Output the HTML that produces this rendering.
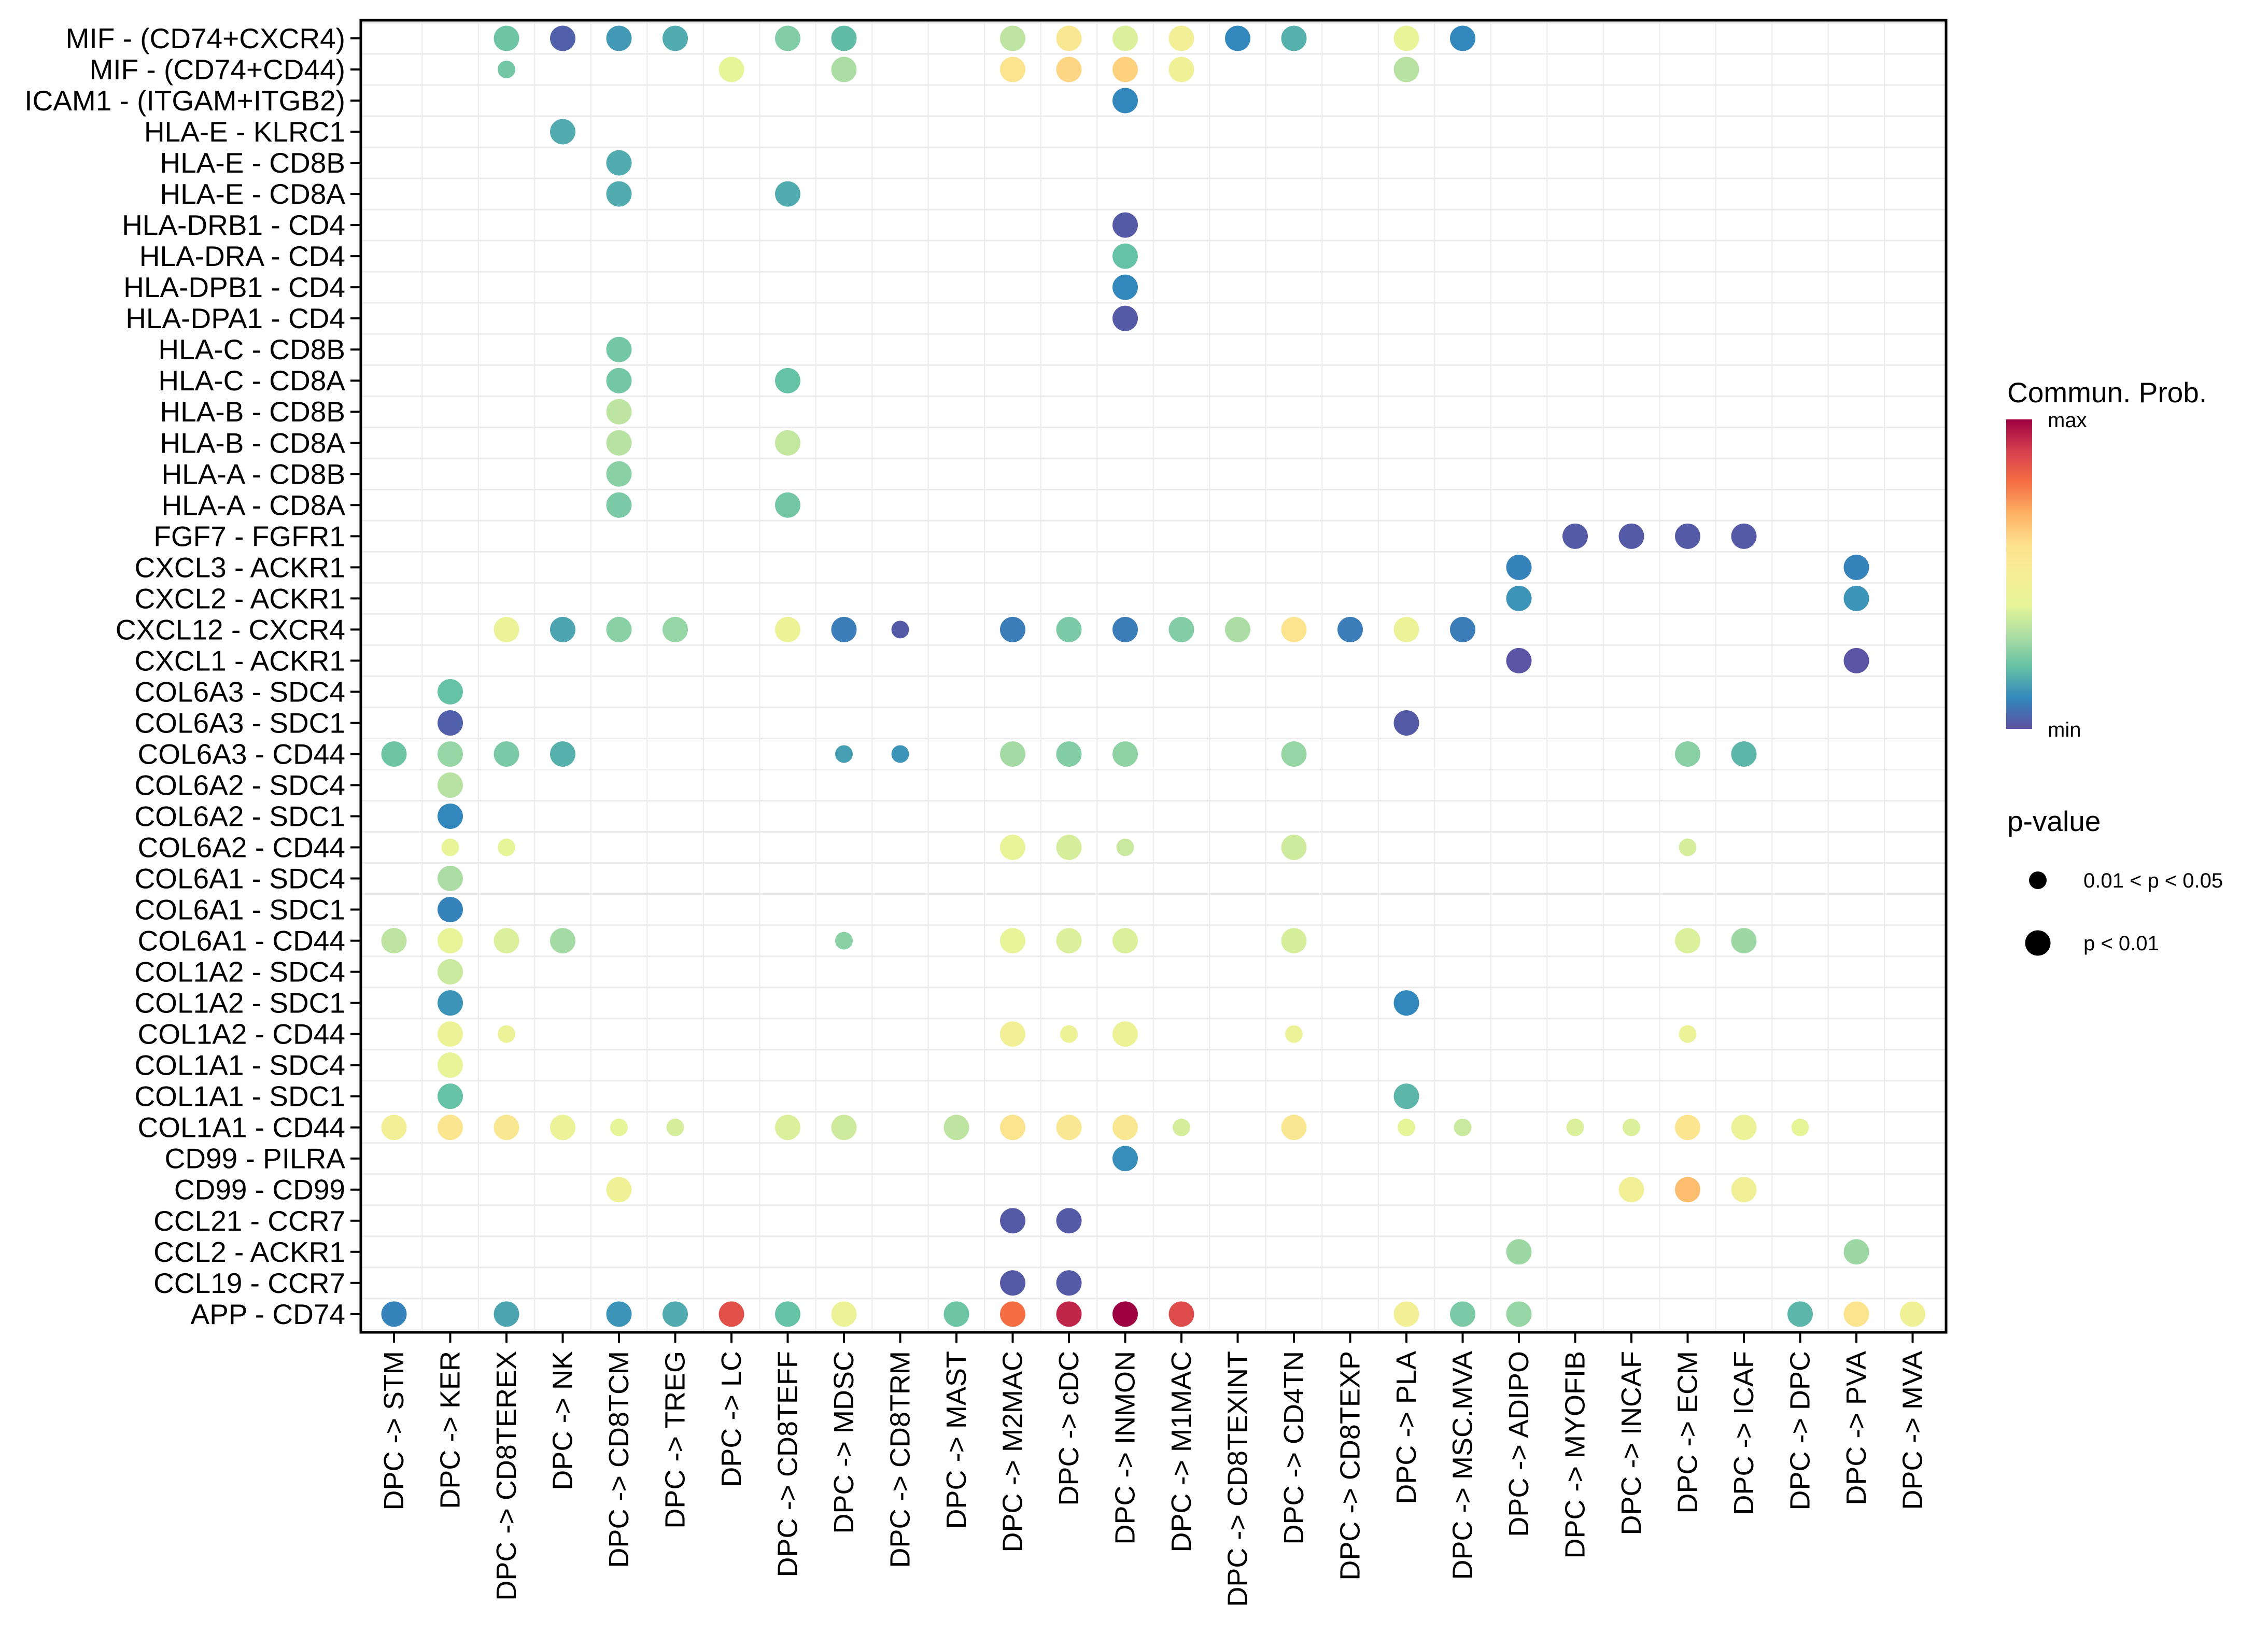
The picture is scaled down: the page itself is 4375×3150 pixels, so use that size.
<!DOCTYPE html>
<html><head><meta charset="utf-8"><style>
html,body{margin:0;padding:0;background:#fff;}
svg{display:block;font-family:"Liberation Sans",sans-serif;}
</style></head><body>
<svg id="chart" xmlns="http://www.w3.org/2000/svg" width="4375" height="3150" viewBox="0 0 4375 3150">
<rect x="0" y="0" width="4375" height="3150" fill="#fff"/>
<g id="grid"></g>
<g id="dots"></g>
<g id="yaxis"></g>
<g id="xaxis"></g>
<rect x="696" y="39" width="3058" height="2531" fill="none" stroke="#000" stroke-width="5"/>
<g>
<defs><linearGradient id="spec" x1="0" y1="1" x2="0" y2="0">
<stop offset="0" stop-color="#5E4FA2"/><stop offset="0.1" stop-color="#3288BD"/><stop offset="0.2" stop-color="#66C2A5"/><stop offset="0.3" stop-color="#ABDDA4"/><stop offset="0.4" stop-color="#E6F598"/><stop offset="0.5" stop-color="#F6EE96"/><stop offset="0.6" stop-color="#FEE08B"/><stop offset="0.7" stop-color="#FDAE61"/><stop offset="0.8" stop-color="#F46D43"/><stop offset="0.9" stop-color="#D53E4F"/><stop offset="1" stop-color="#9E0142"/>
</linearGradient></defs>
<text x="3872" y="776" font-size="55">Commun. Prob.</text>
<rect x="3870" y="809" width="50" height="597" fill="url(#spec)"/>
<text x="3950" y="824" font-size="40">max</text>
<text x="3950" y="1421" font-size="40">min</text>
</g>
<g>
<text x="3872" y="1603" font-size="55">p-value</text>
<circle cx="3931" cy="1698" r="17" fill="#000"/>
<text x="4019" y="1712" font-size="40">0.01 &lt; p &lt; 0.05</text>
<circle cx="3931" cy="1819" r="24.5" fill="#000"/>
<text x="4019" y="1833" font-size="40">p &lt; 0.01</text>
</g>
</svg>
<script>
const pairs = ["MIF - (CD74+CXCR4)","MIF - (CD74+CD44)","ICAM1 - (ITGAM+ITGB2)","HLA-E - KLRC1","HLA-E - CD8B","HLA-E - CD8A","HLA-DRB1 - CD4","HLA-DRA - CD4","HLA-DPB1 - CD4","HLA-DPA1 - CD4","HLA-C - CD8B","HLA-C - CD8A","HLA-B - CD8B","HLA-B - CD8A","HLA-A - CD8B","HLA-A - CD8A","FGF7 - FGFR1","CXCL3 - ACKR1","CXCL2 - ACKR1","CXCL12 - CXCR4","CXCL1 - ACKR1","COL6A3 - SDC4","COL6A3 - SDC1","COL6A3 - CD44","COL6A2 - SDC4","COL6A2 - SDC1","COL6A2 - CD44","COL6A1 - SDC4","COL6A1 - SDC1","COL6A1 - CD44","COL1A2 - SDC4","COL1A2 - SDC1","COL1A2 - CD44","COL1A1 - SDC4","COL1A1 - SDC1","COL1A1 - CD44","CD99 - PILRA","CD99 - CD99","CCL21 - CCR7","CCL2 - ACKR1","CCL19 - CCR7","APP - CD74"];
const targets = ["STM","KER","CD8TEREX","NK","CD8TCM","TREG","LC","CD8TEFF","MDSC","CD8TRM","MAST","M2MAC","cDC","INMON","M1MAC","CD8TEXINT","CD4TN","CD8TEXP","PLA","MSC.MVA","ADIPO","MYOFIB","INCAF","ECM","ICAF","DPC","PVA","MVA"];
// [pairIndex, targetIndex, prob(0..1), significant p<0.01 ? 1 : 0]
const cells = [
[0,2,.21,1],[0,3,.03,1],[0,4,.13,1],[0,5,.16,1],[0,7,.24,1],[0,8,.19,1],[0,11,.33,1],[0,12,.55,1],[0,13,.38,1],[0,14,.48,1],[0,15,.1,1],[0,16,.17,1],[0,18,.42,1],[0,19,.1,1],
[1,2,.22,0],[1,6,.4,1],[1,8,.3,1],[1,11,.57,1],[1,12,.62,1],[1,13,.63,1],[1,14,.46,1],[1,18,.32,1],
[2,13,.1,1],[3,3,.16,1],[4,4,.16,1],[5,4,.16,1],[5,7,.16,1],
[6,13,.02,1],[7,13,.2,1],[8,13,.1,1],[9,13,.02,1],
[10,4,.22,1],[11,4,.22,1],[11,7,.2,1],[12,4,.33,1],[13,4,.32,1],[13,7,.34,1],[14,4,.25,1],[15,4,.23,1],[15,7,.22,1],
[16,21,.02,1],[16,22,.02,1],[16,23,.02,1],[16,24,.02,1],
[17,20,.09,1],[17,26,.09,1],[18,20,.12,1],[18,26,.12,1],
[19,2,.44,1],[19,3,.15,1],[19,4,.25,1],[19,5,.27,1],[19,7,.45,1],[19,8,.08,1],[19,9,.02,0],[19,11,.08,1],[19,12,.23,1],[19,13,.08,1],[19,14,.24,1],[19,15,.3,1],[19,16,.57,1],[19,17,.08,1],[19,18,.44,1],[19,19,.08,1],
[20,20,.01,1],[20,26,.01,1],
[21,1,.2,1],[22,1,.03,1],[22,18,.02,1],
[23,0,.21,1],[23,1,.27,1],[23,2,.23,1],[23,3,.17,1],[23,8,.14,0],[23,9,.12,0],[23,11,.29,1],[23,12,.24,1],[23,13,.26,1],[23,16,.27,1],[23,23,.25,1],[23,24,.18,1],
[24,1,.32,1],[25,1,.1,1],
[26,1,.41,0],[26,2,.4,0],[26,11,.42,1],[26,12,.37,1],[26,13,.35,0],[26,16,.36,1],[26,23,.37,0],
[27,1,.3,1],[28,1,.09,1],
[29,0,.33,1],[29,1,.41,1],[29,2,.38,1],[29,3,.29,1],[29,8,.25,0],[29,11,.41,1],[29,12,.38,1],[29,13,.38,1],[29,16,.37,1],[29,23,.38,1],[29,24,.28,1],
[30,1,.35,1],[31,1,.12,1],[31,18,.1,1],
[32,1,.45,1],[32,2,.44,0],[32,11,.47,1],[32,12,.45,0],[32,13,.45,1],[32,16,.44,0],[32,23,.44,0],
[33,1,.41,1],[34,1,.2,1],[34,18,.18,1],
[35,0,.48,1],[35,1,.56,1],[35,2,.55,1],[35,3,.44,1],[35,4,.4,0],[35,5,.37,0],[35,7,.38,1],[35,8,.36,1],[35,10,.33,1],[35,11,.58,1],[35,12,.55,1],[35,13,.55,1],[35,14,.37,0],[35,16,.55,1],[35,18,.4,0],[35,19,.35,0],[35,21,.38,0],[35,22,.38,0],[35,23,.56,1],[35,24,.44,1],[35,25,.4,0],
[36,13,.11,1],
[37,4,.46,1],[37,22,.47,1],[37,23,.67,1],[37,24,.47,1],
[38,11,.02,1],[38,12,.02,1],
[39,20,.28,1],[39,26,.28,1],
[40,11,.02,1],[40,12,.02,1],
[41,0,.09,1],[41,2,.15,1],[41,4,.12,1],[41,5,.16,1],[41,6,.86,1],[41,7,.2,1],[41,8,.44,1],[41,10,.21,1],[41,11,.8,1],[41,12,.94,1],[41,13,1.0,1],[41,14,.87,1],[41,18,.48,1],[41,19,.23,1],[41,20,.27,1],[41,25,.18,1],[41,26,.58,1],[41,27,.46,1]
];
const stops = ["#5E4FA2","#3288BD","#66C2A5","#ABDDA4","#E6F598","#F6EE96","#FEE08B","#FDAE61","#F46D43","#D53E4F","#9E0142"];
const NS="http://www.w3.org/2000/svg";
const X0=760, DX=108.5, Y0=74, DY=60.02, L=696, R=3754, T=39, B=2570;
function xs(i){return X0+i*DX;}
function ys(i){return Y0+i*DY;}
function hex(c){return [1,3,5].map(k=>parseInt(c.substr(k,2),16));}
function col(v){v=Math.max(0,Math.min(1,v));const p=v*10,i=Math.min(9,Math.floor(p)),f=p-i;const a=hex(stops[i]),b=hex(stops[i+1]);return "rgb("+a.map((x,k)=>Math.round(x+(b[k]-x)*f)).join(",")+")";}
function mk(tag,attrs,parent){const e=document.createElementNS(NS,tag);for(const k in attrs)e.setAttribute(k,attrs[k]);parent.appendChild(e);return e;}
const grid=document.getElementById('grid'),dots=document.getElementById('dots'),ya=document.getElementById('yaxis'),xa=document.getElementById('xaxis');
for(let i=0;i<=pairs.length;i++){const y=ys(i)-DY/2;if(y<T||y>B)continue;const l=mk('line',{x1:L,x2:R,y1:y,y2:y,stroke:'#ebebeb','stroke-width':3},grid);

}
for(let i=1;i<targets.length;i++){const x=xs(i)-DX/2;const l=mk('line',{x1:x,x2:x,y1:T,y2:B,stroke:'#ebebeb','stroke-width':2},grid);

}
pairs.forEach((p,i)=>{const y=ys(i);
const t=mk('line',{x1:676,x2:696,y1:y,y2:y,stroke:'#000','stroke-width':4},ya);


const tx=mk('text',{x:666,y:y,'text-anchor':'end','dominant-baseline':'central','font-size':55},ya);tx.textContent=p;

});
targets.forEach((c,i)=>{const x=xs(i);
const t=mk('line',{x1:x,x2:x,y1:2570,y2:2590,stroke:'#000','stroke-width':4},xa);


const tx=mk('text',{x:0,y:0,transform:'translate('+x+',2606) rotate(-90)','text-anchor':'end','dominant-baseline':'central','font-size':54},xa);tx.textContent='DPC -> '+c;

});
cells.forEach(d=>{const c=mk('circle',{cx:xs(d[1]),cy:ys(d[0]),r:d[3]?24.5:17,fill:col(d[2])},dots);

});
</script>
</body></html>
